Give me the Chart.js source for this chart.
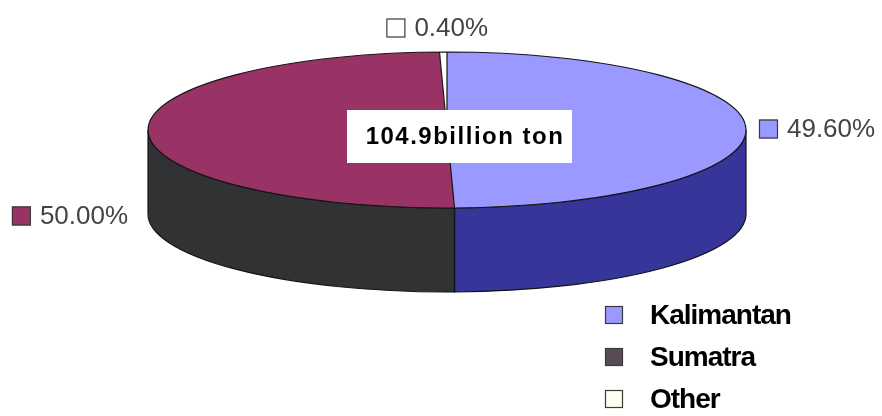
<!DOCTYPE html>
<html>
<head>
<meta charset="utf-8">
<script src="https://cdn.jsdelivr.net/npm/chart.js@4.4.1/dist/chart.umd.min.js"></script>
<style>
  html, body { margin: 0; padding: 0; background: #fff; }
  #wrap { width: 882px; height: 416px; }
</style>
</head>
<body>
<div id="wrap"><canvas id="coalPie" width="882" height="416"></canvas></div>
<script>
// coal reserves by island
const regions = ['Kalimantan', 'Sumatra', 'Other'];
const shares = [49.6, 50.0, 0.4];
const shareLabels = ['49.60%', '50.00%', '0.40%'];
const totalLabel = '104.9billion ton';

const topColors = ['#9999ff', '#993366', '#ffffff'];
const sideColors = ['#35359a', '#303234', '#d0d0d0'];
const legendColors = ['#9999ff', '#5a4a58', '#fffff0'];

// the flat pie gets squashed into this ellipse, with a wall below it
const PIE = { cx: 447, cy: 130, rx: 299, ry: 78, depth: 84 };
const FONT = "'Liberation Sans', Arial, sans-serif";

function ellPoint(a, dy) {
    return [PIE.cx + PIE.rx * Math.cos(a), PIE.cy + (dy || 0) + PIE.ry * Math.sin(a)];
}

function swatch(ctx, x, y, size, fill) {
    ctx.fillStyle = fill;
    ctx.fillRect(x, y, size, size);
    ctx.strokeStyle = '#3a3a3a';
    ctx.lineWidth = 1.2;
    ctx.strokeRect(x + 0.5, y + 0.5, size - 1, size - 1);
}

const pie3d = {
    id: 'pie3d',
    beforeDatasetsDraw(chart) {
        const ctx = chart.ctx;
        const arcs = chart.getDatasetMeta(0).data;
        const { cx, cy, rx, ry, depth } = PIE;

        // front wall, only the part of each slice between 0 and PI
        arcs.forEach((arc, i) => {
            const a0 = Math.max(arc.startAngle, 0);
            const a1 = Math.min(arc.endAngle, Math.PI);
            if (a1 <= a0) return;
            ctx.beginPath();
            ctx.ellipse(cx, cy, rx, ry, 0, a0, a1);
            ctx.ellipse(cx, cy + depth, rx, ry, 0, a1, a0, true);
            ctx.closePath();
            ctx.fillStyle = sideColors[i];
            ctx.fill();
            ctx.strokeStyle = '#151515';
            ctx.lineWidth = 1.2;
            ctx.stroke();
        });

        // squash the library's round pie onto the top face
        const { x, y, outerRadius } = arcs[0];
        ctx.save();
        ctx.translate(cx, cy);
        ctx.scale(rx / outerRadius, ry / outerRadius);
        ctx.translate(-x, -y);
    },
    afterDatasetsDraw(chart) {
        const ctx = chart.ctx;
        const arcs = chart.getDatasetMeta(0).data;
        const { cx, cy, rx, ry, depth } = PIE;
        ctx.restore();

        ctx.strokeStyle = '#151515';
        ctx.lineWidth = 1.2;
        ctx.beginPath();
        ctx.ellipse(cx, cy, rx, ry, 0, 0, Math.PI * 2);
        arcs.forEach(arc => {
            const [px, py] = ellPoint(arc.startAngle);
            ctx.moveTo(cx, cy);
            ctx.lineTo(px, py);
            const a = arc.startAngle;
            if (a > 0 && a < Math.PI) {
                ctx.moveTo(px, py);
                ctx.lineTo(px, py + depth);
            }
        });
        ctx.stroke();
    },
    afterDraw(chart) {
        const ctx = chart.ctx;
        const arcs = chart.getDatasetMeta(0).data;
        ctx.save();
        ctx.textBaseline = 'middle';

        // percentage labels around the pie
        ctx.font = '26px ' + FONT;
        ctx.letterSpacing = '0px';
        arcs.forEach((arc, i) => {
            const mid = (arc.startAngle + arc.endAngle) / 2;
            const [ax, ay] = ellPoint(mid);
            const tw = ctx.measureText(shareLabels[i]).width;
            const box = 19, gap = 9;
            let left, y;
            if (Math.abs(Math.cos(mid)) < 0.5) {
                left = ax - (box + gap + tw) / 2 - 6;
                y = ay - 24;
            } else if (Math.cos(mid) > 0) {
                left = ax + 13;
                y = ay;
            } else {
                left = ax - 20 - tw - gap - box;
                y = ay + PIE.depth;
            }
            swatch(ctx, left, y - box / 2, box, topColors[i]);
            ctx.fillStyle = '#444';
            ctx.textAlign = 'left';
            ctx.fillText(shareLabels[i], left + box + gap, y + 1);
        });

        // total in the middle of the top face
        ctx.fillStyle = '#fff';
        ctx.fillRect(PIE.cx - 100, PIE.cy - 20, 225, 53);
        ctx.fillStyle = '#000';
        ctx.font = 'bold 24px ' + FONT;
        ctx.letterSpacing = '1.5px';
        ctx.textAlign = 'center';
        ctx.fillText(totalLabel, PIE.cx + 18, PIE.cy + 7);

        // legend, bottom right
        ctx.font = 'bold 28px ' + FONT;
        ctx.letterSpacing = '-1px';
        ctx.textAlign = 'left';
        regions.forEach((name, i) => {
            const y = 315 + i * 42;
            swatch(ctx, 605, y - 9, 18, legendColors[i]);
            ctx.fillStyle = '#000';
            ctx.fillText(name, 650, y + 1);
        });
        ctx.letterSpacing = '0px';
        ctx.restore();
    }
};

new Chart(document.getElementById('coalPie'), {
    type: 'pie',
    data: {
        labels: regions,
        datasets: [{
            data: shares,
            backgroundColor: topColors,
            borderWidth: 0,
            clip: false
        }]
    },
    options: {
        responsive: false,
        animation: false,
        events: [],
        devicePixelRatio: 1,
        plugins: {
            legend: { display: false },
            tooltip: { enabled: false }
        }
    },
    plugins: [pie3d]
});
</script>
</body>
</html>
